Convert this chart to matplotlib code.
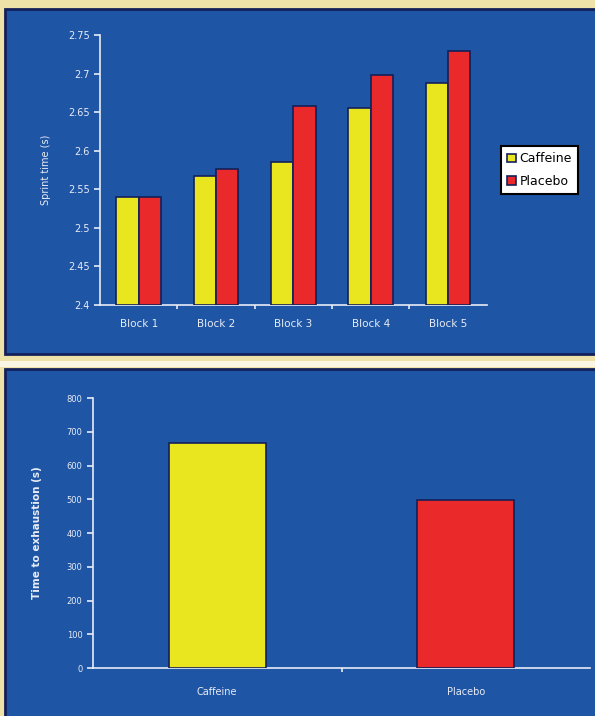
import matplotlib.pyplot as plt
from matplotlib.patches import Rectangle

blocks = ["Block 1", "Block 2", "Block 3", "Block 4", "Block 5"]
caffeine_sprint = [2.54, 2.567, 2.585, 2.656, 2.688]
placebo_sprint = [2.54, 2.577, 2.658, 2.698, 2.729]
sprint_ticks = [2.4, 2.45, 2.5, 2.55, 2.6, 2.65, 2.7, 2.75]

groups = ["Caffeine", "Placebo"]
exhaustion = [666, 499]
exhaustion_ticks = [0, 100, 200, 300, 400, 500, 600, 700, 800]

blue = '#1f55a5'
navy = '#14205a'
yellow = '#e9e620'
red = '#ea2a2a'
beige = '#efe2a8'
white = '#e8ecf5'

fig = plt.figure(figsize=(5.95, 7.16), dpi=100, facecolor=beige)

# white strip between the two panels
fig.patches.append(Rectangle((0, 0.488), 1, 0.008, transform=fig.transFigure,
                             facecolor='#fbf6e4', edgecolor='none', zorder=-3))
# blue panels
fig.patches.append(Rectangle((0.009, 0.505), 1.0, 0.483, transform=fig.transFigure,
                             facecolor=blue, edgecolor=navy, linewidth=2, zorder=-2))
fig.patches.append(Rectangle((0.009, -0.02), 1.0, 0.505, transform=fig.transFigure,
                             facecolor=blue, edgecolor=navy, linewidth=2, zorder=-2))


def style_axes(ax):
    ax.set_facecolor('none')
    for s in ['top', 'right']:
        ax.spines[s].set_visible(False)
    for s in ['left', 'bottom']:
        ax.spines[s].set_color(white)
        ax.spines[s].set_linewidth(1.2)
    ax.tick_params(colors=white, labelcolor=white, labelsize=7, length=4, width=1.2)


# top chart: sprint times
ax1 = fig.add_axes([0.168, 0.574, 0.65, 0.377])
style_axes(ax1)
x = list(range(len(blocks)))
w = 0.29
ax1.bar([i - w / 2 for i in x], [v - 2.4 for v in caffeine_sprint], w, bottom=2.4,
        color=yellow, edgecolor=navy, linewidth=1.2, label="Caffeine", zorder=3)
ax1.bar([i + w / 2 for i in x], [v - 2.4 for v in placebo_sprint], w, bottom=2.4,
        color=red, edgecolor=navy, linewidth=1.2, label="Placebo", zorder=3)
ax1.set_ylim(2.4, 2.75)
ax1.set_xlim(-0.5, len(blocks) - 0.5)
ax1.set_yticks(sprint_ticks)
ax1.set_yticklabels([f"{t:g}" for t in sprint_ticks])
ax1.set_xticks([i + 0.5 for i in x[:-1]])
ax1.set_xticklabels([])
ax1.set_xticks(x, minor=True)
ax1.set_xticklabels(blocks, minor=True)
ax1.tick_params(axis='x', which='minor', length=0, pad=10, labelsize=7.5, labelcolor=white)
ax1.tick_params(axis='x', which='major', length=3)
ax1.set_ylabel("Sprint time (s)", color=white, fontsize=7, labelpad=12)
leg = ax1.legend(loc='center left', bbox_to_anchor=(1.02, 0.5), fontsize=9,
                 frameon=True, fancybox=False, framealpha=1, handlelength=0.7,
                 handleheight=0.7, handletextpad=0.3, borderpad=0.5, labelspacing=0.75)
leg.get_frame().set_facecolor('white')
leg.get_frame().set_edgecolor('black')
leg.get_frame().set_linewidth(1.5)

# bottom chart: time to exhaustion
ax2 = fig.add_axes([0.156, 0.067, 0.836, 0.377])
style_axes(ax2)
ax2.bar(range(len(groups)), exhaustion, 0.39, color=[yellow, red],
        edgecolor=navy, linewidth=1.2, zorder=3)
ax2.set_ylim(0, 800)
ax2.set_xlim(-0.5, len(groups) - 0.5)
ax2.set_yticks(exhaustion_ticks)
ax2.tick_params(axis='y', labelsize=6)
ax2.set_xticks([0.5])
ax2.set_xticklabels([])
ax2.set_xticks(range(len(groups)), minor=True)
ax2.set_xticklabels(groups, minor=True)
ax2.tick_params(axis='x', which='minor', length=0, pad=14, labelsize=7, labelcolor=white)
ax2.tick_params(axis='x', which='major', length=3)
ax2.set_ylabel("Time to exhaustion (s)", color=white, fontsize=7.5,
               fontweight='bold', labelpad=18)

fig.savefig("out.png", dpi=100, facecolor=fig.get_facecolor())
